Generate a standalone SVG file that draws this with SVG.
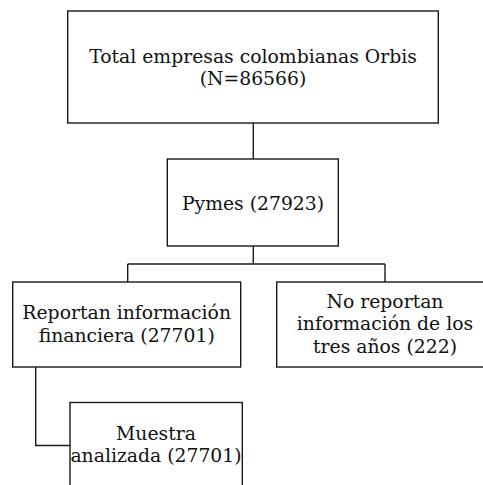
<svg xmlns="http://www.w3.org/2000/svg" width="483" height="485" viewBox="0 0 483 485">
<style>
.box{fill:#fff;stroke:#1a1a1a;stroke-width:1.4}
.ln{fill:none;stroke:#1a1a1a;stroke-width:1.4}
text{font-family:"DejaVu Serif","Liberation Serif",serif;font-size:18.8px;fill:#111;text-anchor:middle}
</style>
<rect width="483" height="485" fill="#fff"/>
<g id="connectors">
<path class="ln" d="M253.3,123 V159"/>
<path class="ln" d="M253.3,246 V264 M127.7,264 H385 M127.7,264 V282 M385,264 V282"/>
<path class="ln" d="M35.7,367 V445.5 H70"/>
</g>
<g id="n-total">
<rect class="box" x="67.7" y="11" width="370.6" height="112"/>
<text x="253" y="63">Total empresas colombianas Orbis</text>
<text x="253" y="85">(N=86566)</text>
</g>
<g id="n-pymes">
<rect class="box" x="167.3" y="159" width="171" height="87"/>
<text x="253" y="210">Pymes (27923)</text>
</g>
<g id="n-reportan">
<rect class="box" x="12.7" y="282" width="228" height="85"/>
<text x="126.7" y="319">Reportan información</text>
<text x="126.7" y="341.5">financiera (27701)</text>
</g>
<g id="n-noreportan">
<rect class="box" x="276.7" y="282" width="220" height="85"/>
<text x="385" y="308.3">No reportan</text>
<text x="385" y="330">información de los</text>
<text x="385" y="353">tres años (222)</text>
</g>
<g id="n-muestra">
<rect class="box" x="70" y="402.5" width="172.3" height="100"/>
<text x="156" y="440.3">Muestra</text>
<text x="156" y="461.7">analizada (27701)</text>
</g>
</svg>
